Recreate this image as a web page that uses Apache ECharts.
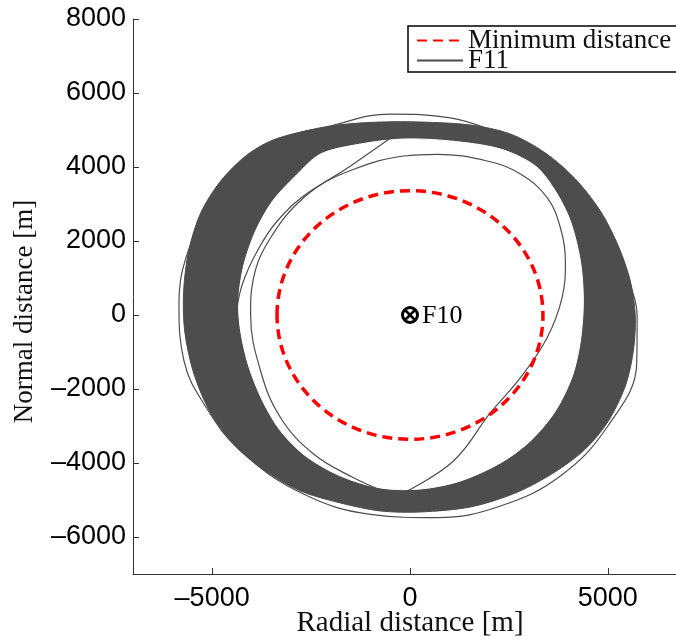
<!DOCTYPE html>
<html>
<head>
<meta charset="utf-8">
<script src="https://cdn.jsdelivr.net/npm/echarts@6/dist/echarts.min.js"></script>
<style>
html, body { margin: 0; padding: 0; background: #fff; }
#container { width: 676px; height: 641px; }
</style>
</head>
<body>
<div id="container"></div>
<script>
// 数据
var xTicks = [-5000, 0, 5000];
var yTicks = [-6000, -4000, -2000, 0, 2000, 4000, 6000, 8000];
var minDistance = 3360; // 最小距离圆半径 [m]
var centerName = 'F10';

// F11 轨迹密集带：外边界 / 内边界
var bandOuter = [
  [-2765, 4946], [-1831, 5135], [-745, 5216], [265, 5216], [1528, 5135],
  [2538, 4892], [3422, 4378], [4179, 3676], [4811, 2811], [5265, 1865],
  [5568, 919], [5694, -27], [5644, -973], [5442, -1919], [5013, -2865],
  [4432, -3622], [3624, -4270], [2664, -4811], [1528, -5189], [265, -5324],
  [-745, -5297], [-1755, -5081], [-2765, -4757], [-3649, -4216], [-4407, -3541],
  [-5038, -2649], [-5467, -1568], [-5694, -432], [-5720, 649], [-5593, 1730],
  [-5290, 2757], [-4785, 3622], [-4154, 4297], [-3523, 4703]
];
var bandInner = [
  [-2260, 4351], [-1250, 4622], [-164, 4757], [1023, 4703], [2285, 4486],
  [3169, 4027], [3674, 3351], [4053, 2541], [4306, 1459], [4381, 378],
  [4306, -703], [4104, -1649], [3674, -2595], [3043, -3405], [2285, -4000],
  [1275, -4486], [265, -4703], [-745, -4676], [-1755, -4351], [-2639, -3811],
  [-3270, -3135], [-3725, -2324], [-4078, -1378], [-4280, -432], [-4331, 378],
  [-4205, 1324], [-3902, 2270], [-3472, 3081], [-2891, 3757]
];

// F11 零散细线
var loopA = [
  [-157, -4803], [1098, -3946], [2033, -2641], [2790, -1695], [3465, -614],
  [3843, 468], [3927, 1459], [3801, 2359], [3465, 3170], [2790, 3811],
  [1949, 4162], [687, 4343], [-157, 4297], [-1419, 3938], [-2513, 3351],
  [-3354, 2541], [-3859, 1730], [-4237, 830], [-4400, 0], [-4450, -600]
];
var loopB = [
  [-400, 4850], [-1503, 4027], [-2689, 3170], [-3523, 2089], [-3952, 1008],
  [-4028, 27], [-3775, -1514], [-3270, -2776], [-2437, -3757], [-1427, -4397],
  [-576, -4800]
];
var loopD = [
  [2400, 4850], [1023, 5330], [-500, 5430], [-2008, 5108], [-3523, 4622],
  [-4785, 3441], [-5543, 1919], [-5838, 297], [-5712, -1243], [-5207, -2405],
  [-4280, -3676], [-2689, -4838], [-997, -5386], [687, -5478], [2285, -5162],
  [3800, -4350], [5000, -3000], [5730, -1300], [5740, 0], [5250, 1500]
];

var gray = '#4d4d4d';
var serif = '"Liberation Serif", "DejaVu Serif", serif';
var sans = '"Liberation Sans", Arial, sans-serif';

var dom = document.getElementById('container');
var myChart = echarts.init(dom);

function polyItem(points, fill) {
  return function (params, api) {
    var pts = points.map(function (p) { return api.coord(p); });
    return {
      type: 'polygon',
      shape: { points: pts, smooth: 0.3 },
      style: { fill: fill, stroke: fill, lineWidth: 1 }
    };
  };
}

function thinLine(data) {
  return {
    name: 'F11', type: 'line', data: data, smooth: 0.4,
    symbol: 'none', silent: true, z: 4,
    itemStyle: { color: gray },
    lineStyle: { color: gray, width: 1.2 }
  };
}

function tickText(v) { return v < 0 ? '\u2013' + Math.abs(v) : '' + v; }

var option = {
  animation: false,
  backgroundColor: '#fff',
  grid: { left: 133, top: 19, right: -11, bottom: 67, containLabel: false, outerBoundsMode: 'none' },
  legend: {
    left: 408, top: 26, orient: 'vertical',
    data: ['Minimum distance', 'F11'],
    itemWidth: 46, itemHeight: 10, itemGap: -7,
    itemStyle: { opacity: 0 },
    padding: [1, 6, -2, 8],
    borderColor: '#000', borderWidth: 1.5, backgroundColor: '#fff',
    textStyle: { fontFamily: serif, fontSize: 27, color: '#111' }
  },
  xAxis: {
    type: 'value', min: -7000, max: 7000,
    name: 'Radial distance [m]', nameLocation: 'middle', nameGap: 35, nameMoveOverlap: false,
    nameTextStyle: { fontFamily: serif, fontSize: 29, color: '#111' },
    axisLine: { onZero: false, lineStyle: { color: '#333', width: 1 } },
    axisTick: { inside: true, length: 6, customValues: xTicks, lineStyle: { color: '#333' } },
    axisLabel: { customValues: xTicks, margin: 11, fontFamily: sans, fontSize: 27, color: '#000', formatter: tickText },
    splitLine: { show: false }
  },
  yAxis: {
    type: 'value', min: -7000, max: 8000,
    name: 'Normal distance [m]', nameLocation: 'middle', nameGap: 95, nameMoveOverlap: false,
    nameTextStyle: { fontFamily: serif, fontSize: 27, color: '#111', padding: [0, 30, 0, 0] },
    axisLine: { onZero: false, lineStyle: { color: '#333', width: 1 } },
    axisTick: { inside: true, length: 6, customValues: yTicks, lineStyle: { color: '#333' } },
    axisLabel: { customValues: yTicks, margin: 7, fontFamily: sans, fontSize: 27, color: '#000', formatter: tickText },
    splitLine: { show: false }
  },
  series: [
    // 图例用
    {
      name: 'Minimum distance', type: 'line', data: [], symbol: 'none',
      itemStyle: { color: '#ff0000' },
      lineStyle: { color: '#ff0000', width: 3, type: [10, 6] }
    },
    thinLine(loopD),
    {
      name: 'band', type: 'custom', silent: true, z: 2,
      data: [[0, 0]], renderItem: polyItem(bandOuter, gray)
    },
    {
      name: 'bandHole', type: 'custom', silent: true, z: 3,
      data: [[0, 0]], renderItem: polyItem(bandInner, '#fff')
    },
    thinLine(loopA),
    thinLine(loopB),
    {
      name: 'circle', type: 'custom', silent: true, z: 5,
      data: [[0, 0, minDistance]],
      renderItem: function (params, api) {
        var c = api.coord([api.value(0), api.value(1)]);
        var s = api.size([api.value(2), api.value(2)]);
        return {
          type: 'ellipse',
          shape: { cx: c[0], cy: c[1], rx: s[0], ry: s[1] },
          style: { fill: 'none', stroke: '#ff0000', lineWidth: 3.5, lineDash: [10, 6] }
        };
      }
    },
    {
      name: 'center', type: 'custom', silent: true, z: 6,
      data: [[0, 0]],
      renderItem: function (params, api) {
        var c = api.coord([api.value(0), api.value(1)]);
        var d = 4.5;
        return {
          type: 'group',
          children: [
            { type: 'circle', shape: { cx: c[0], cy: c[1], r: 7.5 },
              style: { fill: '#fff', stroke: '#000', lineWidth: 3 } },
            { type: 'line', shape: { x1: c[0] - d, y1: c[1] - d, x2: c[0] + d, y2: c[1] + d },
              style: { stroke: '#000', lineWidth: 2.5 } },
            { type: 'line', shape: { x1: c[0] - d, y1: c[1] + d, x2: c[0] + d, y2: c[1] - d },
              style: { stroke: '#000', lineWidth: 2.5 } },
            { type: 'text', x: c[0] + 12, y: c[1] + 1,
              style: { text: centerName, fill: '#000', font: '26px ' + serif,
                       textAlign: 'left', textVerticalAlign: 'middle' } }
          ]
        };
      }
    }
  ]
};
myChart.setOption(option);
</script>
</body>
</html>
